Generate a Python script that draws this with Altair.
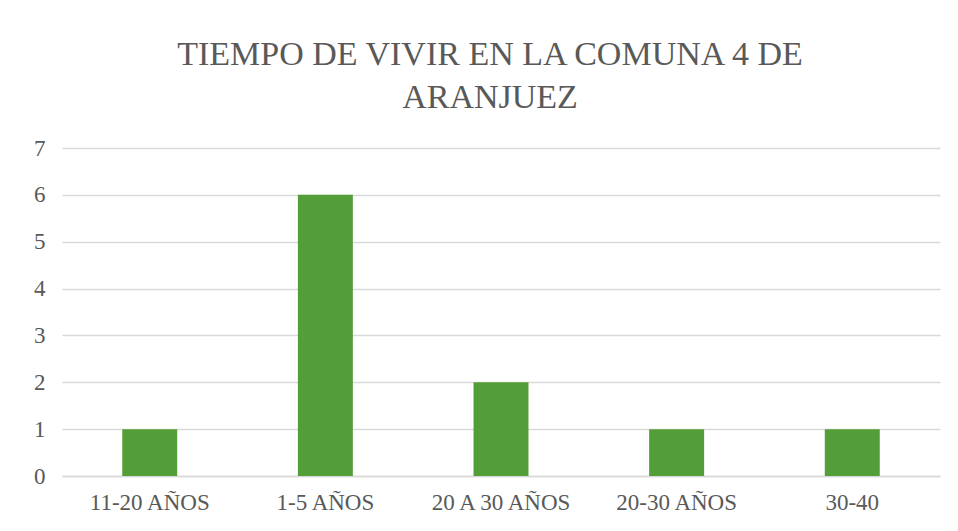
import altair as alt
import pandas as pd

categories = ["11-20 AÑOS", "1-5 AÑOS", "20 A 30 AÑOS", "20-30 AÑOS", "30-40"]
values = [1, 6, 2, 1, 1]
y_ticks = [0, 1, 2, 3, 4, 5, 6, 7]

df = pd.DataFrame({"cat": categories, "val": values})

TEXT = "#595959"

chart = alt.Chart(df).mark_bar(color="#549E39").encode(
    x=alt.X("cat:N", sort=categories,
            scale=alt.Scale(paddingInner=0.687, paddingOuter=0.343),
            axis=alt.Axis(title=None, labelAngle=0, labelFont="Liberation Serif",
                          labelFontSize=23, labelColor=TEXT, labelPadding=15,
                          ticks=False, domain=True, domainColor="#d9d9d9",
                          domainWidth=1.5, grid=False)),
    y=alt.Y("val:Q", scale=alt.Scale(domain=[0, 7], nice=False),
            axis=alt.Axis(title=None, values=y_ticks, labelFont="Liberation Serif",
                          labelFontSize=23, labelColor=TEXT, labelPadding=17,
                          ticks=False, domain=False, gridColor="#d9d9d9",
                          gridWidth=1.5)),
).properties(
    width=878,
    height=328,
    title=alt.TitleParams(
        text=["TIEMPO DE VIVIR EN LA COMUNA 4 DE", "ARANJUEZ"],
        font="Liberation Serif", fontSize=34, fontWeight="normal",
        color=TEXT, anchor="middle", dx=-11, lineHeight=43, offset=22,
    ),
    autosize=alt.AutoSizeParams(type="none"),
    padding={"left": 54, "top": 140, "right": 10, "bottom": 50},
).configure_view(stroke=None)

chart.save("out.html", embed_options={"renderer": "svg", "actions": False})
